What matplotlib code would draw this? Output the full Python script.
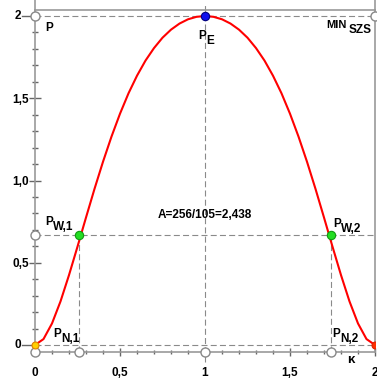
import matplotlib
matplotlib.use('Agg')
import matplotlib.pyplot as plt
from matplotlib.ticker import FixedLocator, MultipleLocator

# ---- data ----
kappa = [0.00, 0.05, 0.10, 0.15, 0.20, 0.25, 0.30, 0.35, 0.40, 0.45, 0.50,
         0.55, 0.60, 0.65, 0.70, 0.75, 0.80, 0.85, 0.90, 0.95, 1.00,
         1.05, 1.10, 1.15, 1.20, 1.25, 1.30, 1.35, 1.40, 1.45, 1.50,
         1.55, 1.60, 1.65, 1.70, 1.75, 1.80, 1.85, 1.90, 1.95, 2.00]
curve = [0.000, 0.036, 0.131, 0.265, 0.425, 0.598, 0.775, 0.949, 1.114, 1.267, 1.406,
         1.530, 1.637, 1.729, 1.805, 1.868, 1.917, 1.954, 1.980, 1.995, 2.000,
         1.995, 1.980, 1.954, 1.917, 1.868, 1.805, 1.729, 1.637, 1.530, 1.406,
         1.267, 1.114, 0.949, 0.775, 0.598, 0.425, 0.265, 0.131, 0.036, 0.000]

pw_x = [0.26, 1.74]          # P_W,1 , P_W,2
pw_y = [0.667, 0.667]
pe_x, pe_y = 1.0, 2.0        # P_E
pmax_y = 2.0
area_text = "A=256/105=2,438"

xticks = [0, 0.5, 1, 1.5, 2]
xticklabels = ["0", "0,5", "1", "1,5", "2"]
yticks = [0.5, 1.0, 1.5]
yticklabels = ["0,5", "1,0", "1,5"]
yextra = [0, 2]
yextralabels = ["0", "2"]

# ---- styling ----
plt.rcParams['font.family'] = ['Liberation Sans', 'DejaVu Sans']
FS = 8.5
AX_C = '#999999'
TICK_C = '#666666'
DASH_C = '#8a8a8a'
W, H = 377, 380
fig = plt.figure(figsize=(W / 100, H / 100), dpi=100)
ax = fig.add_axes([35 / W, 28 / H, 340 / W, 342 / H])
ax.set_xlim(0, 2)
ax.set_ylim(-7 / 164.5, 335 / 164.5)

for s in ax.spines.values():
    s.set_color(AX_C)
    s.set_linewidth(1.2)

ax.xaxis.set_major_locator(FixedLocator(xticks))
ax.set_xticklabels(xticklabels)
ax.xaxis.set_minor_locator(MultipleLocator(0.1))
ax.yaxis.set_major_locator(FixedLocator(yticks))
ax.set_yticklabels(yticklabels)
ax.yaxis.set_minor_locator(MultipleLocator(0.1))
ax.tick_params(axis='x', which='major', direction='inout', length=6, width=1,
               color=TICK_C, pad=7.5, labelsize=FS)
ax.tick_params(axis='x', which='minor', direction='inout', length=3.5, width=1,
               color=TICK_C)
ax.tick_params(axis='y', which='major', direction='inout', length=8, width=1,
               color=TICK_C, pad=0.5, labelsize=FS)
ax.tick_params(axis='y', which='minor', direction='inout', length=4.5, width=1,
               color=TICK_C)
for lab in ax.get_xticklabels() + ax.get_yticklabels():
    lab.set_fontweight('bold')

# extra y ticks (longer) and labels for 0 and 2
for yv, yl in zip(yextra, yextralabels):
    ax.plot([-13 / 170, 0], [yv, yv], color=TICK_C, lw=1, clip_on=False, zorder=3)
    ax.annotate(yl, xy=(0, yv), xytext=(-14, 0), textcoords='offset pixels',
                ha='right', va='center', fontsize=FS, fontweight='bold',
                annotation_clip=False)

# extend left & right frame lines above the top line
ymax = ax.get_ylim()[1]
ax.plot([0, 0], [ymax, ymax + 10 / 164.5], color=AX_C, lw=1.2, clip_on=False)
ax.plot([2, 2], [ymax, ymax + 10 / 164.5], color=AX_C, lw=1.2, clip_on=False)

# dashed guide lines
dash = dict(color=DASH_C, lw=0.8, ls=(0, (5.4, 2.9)), zorder=2, clip_on=False)
ax.plot([0, 2], [pmax_y, pmax_y], **dash)
ax.plot([0, 2], [pw_y[0], pw_y[0]], **dash)
ax.plot([0, 2], [0, 0], **dash)
ymin = ax.get_ylim()[0]
ax.plot([pe_x, pe_x], [ymin - 10 / 164.5, ymax + 7 / 164.5], **dash)
for xv, yv in zip(pw_x, pw_y):
    ax.plot([xv, xv], [ymin, yv], **dash)

# curve
ax.plot(kappa, curve, color='#ff0000', lw=1.5, zorder=4, solid_capstyle='round')

# hollow points on axes
hollow = dict(marker='o', ms=6.5, mfc='white', mec='#888888', mew=1,
              ls='none', zorder=6, clip_on=False)
ax.plot([0, 0, 2], [pmax_y, pw_y[0], pmax_y], **hollow)
ax.plot([0] + pw_x + [pe_x], [ymin] * 4, **hollow)

# special points
ax.plot([0], [0], marker='o', ms=5, mfc='#ffd000', mec='#e08000', mew=0.8,
        ls='none', zorder=7, clip_on=False)
ax.plot([2], [0], marker='o', ms=5, mfc='#ff3000', mec='#e02000', mew=0.8,
        ls='none', zorder=7, clip_on=True)
ax.plot(pw_x, pw_y, marker='o', ms=6, mfc='#22dd22', mec='#119911', mew=0.8,
        ls='none', zorder=7, clip_on=False)
ax.plot([pe_x], [pe_y], marker='o', ms=6, mfc='#1010ee', mec='#000080', mew=0.8,
        ls='none', zorder=7, clip_on=False)


def label(main, sub, xy, dx, dy):
    ax.annotate(main, xy=xy, xytext=(dx, dy), textcoords='offset pixels',
                ha='left', va='baseline', fontsize=FS, fontweight='bold',
                annotation_clip=False, zorder=8)
    if sub:
        ax.annotate(sub, xy=xy, xytext=(dx + 8, dy - 5), textcoords='offset pixels',
                    ha='left', va='baseline', fontsize=FS, fontweight='bold',
                    annotation_clip=False, zorder=8)


label("P", None, (0, pmax_y), 10, -15)
label("P", "E", (pe_x, pe_y), -7, -23)
label("P", "W,1", (pw_x[0], pw_y[0]), -34, 10)
label("P", "W,2", (pw_x[1], pw_y[1]), 2, 8)
label("P", "N,1", (pw_x[0], 0), -26, 8)
label("P", "N,2", (pw_x[1], 0), 1, 8)
ax.annotate("MIN", xy=(2, pmax_y), xytext=(-49, -12), textcoords='offset pixels',
            ha='left', va='baseline', fontsize=8, fontweight='bold',
            annotation_clip=False)
ax.annotate("SZS", xy=(2, pmax_y), xytext=(-26, -17), textcoords='offset pixels',
            ha='left', va='baseline', fontsize=FS, fontweight='bold',
            annotation_clip=False)
ax.annotate("κ", xy=(2, 0), xytext=(-28, -18), textcoords='offset pixels',
            ha='left', va='baseline', fontsize=FS + 1, fontweight='bold',
            annotation_clip=False)
ax.text(1.0, 0.79, area_text, ha='center', va='center', fontsize=FS,
        fontweight='bold', zorder=8)

fig.savefig('out.png', dpi=100)
